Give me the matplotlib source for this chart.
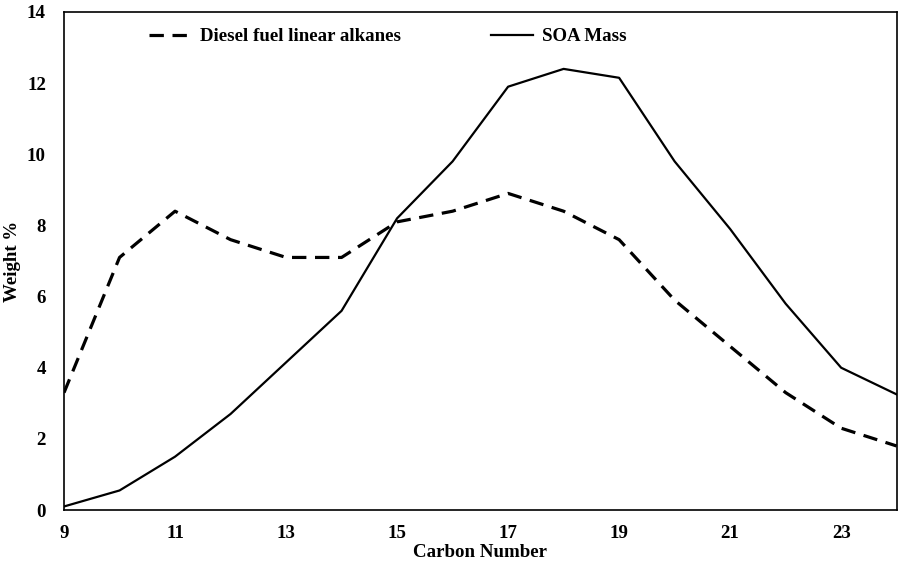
import matplotlib.pyplot as plt

carbon_number = [9, 10, 11, 12, 13, 14, 15, 16, 17, 18, 19, 20, 21, 22, 23, 24]
diesel_alkanes = [3.3, 7.1, 8.4, 7.6, 7.1, 7.1, 8.1, 8.4, 8.9, 8.4, 7.6, 5.9, 4.6, 3.3, 2.3, 1.8]
soa_mass = [0.1, 0.55, 1.5, 2.7, 4.15, 5.6, 8.2, 9.8, 11.9, 12.4, 12.15, 9.8, 7.9, 5.8, 4.0, 3.25]

x_ticks = [9, 11, 13, 15, 17, 19, 21, 23]
y_ticks = [0, 2, 4, 6, 8, 10, 12, 14]

plt.rcParams['font.family'] = 'Liberation Serif'
plt.rcParams['font.weight'] = 'bold'
plt.rcParams['font.size'] = 13.6

fig = plt.figure(figsize=(9.07, 5.65), dpi=100)
ax = fig.add_axes([0.0706, 0.0973, 0.918, 0.8815])

ax.plot(carbon_number, diesel_alkanes, color='black', linestyle=(0, (4.5, 2.7)),
        linewidth=2.3, label='Diesel fuel linear alkanes')
ax.plot(carbon_number, soa_mass, color='black', linewidth=1.6, label='SOA Mass')

ax.set_xlim(9, 24)
ax.set_ylim(0, 14)
ax.set_xticks(x_ticks)
ax.set_yticks(y_ticks)
ax.tick_params(length=0, labelsize=13.6)
ax.tick_params(axis='x', pad=11)
ax.tick_params(axis='y', pad=13)
for spine in ax.spines.values():
    spine.set_linewidth(1.2)

ax.set_xlabel('Carbon Number', fontweight='bold', fontsize=13.6, labelpad=1)
ax.set_ylabel('Weight %', fontweight='bold', fontsize=13.6, labelpad=4)

ax.legend(loc='upper left', bbox_to_anchor=(0.082, 1.002), ncol=2, frameon=False,
          handlelength=2.2, columnspacing=4.75, handletextpad=0.5, fontsize=13.6)

fig.savefig('out.png', dpi=100)
